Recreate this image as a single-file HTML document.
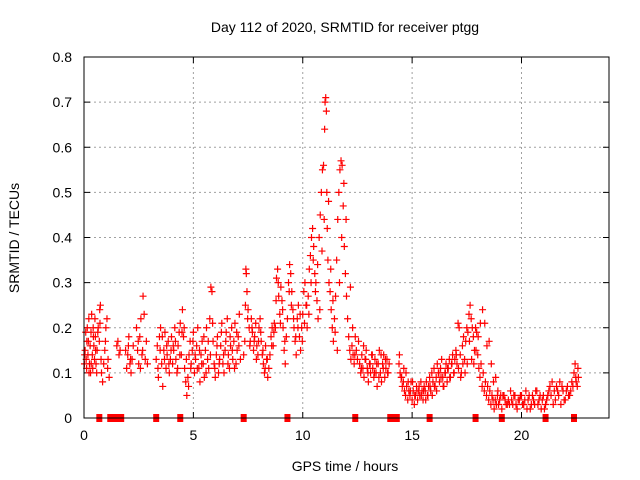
<!DOCTYPE html>
<html><head><meta charset="utf-8"><style>
body{margin:0;background:#fff;}
svg{display:block;font-family:"Liberation Sans",sans-serif;}
</style></head><body>
<svg id="chart" width="640" height="480">
<text x="345" y="32" font-size="14" text-anchor="middle">Day 112 of 2020, SRMTID for receiver ptgg</text>
<text x="345" y="471" font-size="14" text-anchor="middle">GPS time / hours</text>
<text x="19" y="238" font-size="14" text-anchor="middle" transform="rotate(-90 19 238)">SRMTID / TECUs</text>
<g id="grid"></g><g id="ticks"></g><g id="pts"></g>
<rect x="84" y="57" width="525" height="361" fill="none" stroke="#000" stroke-width="1"/>
</svg>
<script>
const xTicks=[0,5,10,15,20];
const yTicks=[0,0.1,0.2,0.3,0.4,0.5,0.6,0.7,0.8];
const times=[0.02,0.05,0.08,0.1,0.12,0.15,0.18,0.2,0.22,0.25,0.28,0.3,0.32,0.35,0.38,0.4,0.42,0.45,0.48,0.5,0.52,0.55,0.58,0.6,0.65,0.7,0.72,0.75,0.78,
0.8,0.85,0.9,0.95,1.0,1.05,1.1,1.15,1.5,1.55,1.6,1.65,1.9,1.95,2.0,2.05,2.1,2.15,2.2,2.25,
2.4,2.45,2.5,2.55,2.6,2.65,2.7,2.75,2.8,2.85,2.9,
3.3,3.35,3.4,3.45,3.5,3.55,3.6,3.65,3.7,3.75,3.8,3.85,3.9,3.95,4.0,
4.05,4.1,4.15,4.2,4.25,4.3,4.35,4.4,4.45,4.5,4.55,4.6,4.65,4.7,4.75,4.8,4.85,4.9,4.95,5.0,5.05,5.1,5.15,5.2,5.25,5.3,5.35,5.4,5.45,5.5,
5.55,5.6,5.65,5.7,5.75,5.8,5.85,5.9,5.95,6.0,6.05,6.1,6.15,6.2,6.25,6.3,6.35,6.4,6.45,6.5,
6.55,6.6,6.65,6.7,6.75,6.8,6.85,6.9,6.95,7.0,7.05,7.1,7.15,
7.3,7.35,7.4,7.42,7.45,7.5,7.55,7.6,7.65,7.7,7.75,7.8,7.85,7.9,7.95,
8.0,8.05,8.1,8.15,8.2,8.25,8.3,8.35,8.4,8.45,
8.5,8.55,8.6,8.65,8.7,8.75,8.8,8.85,8.9,8.95,9.0,9.05,9.1,9.15,9.2,9.25,
9.3,9.35,9.4,9.45,9.5,9.55,9.6,9.65,9.7,9.75,9.8,9.85,9.9,9.95,10.0,
10.05,10.1,10.15,10.2,10.25,10.3,10.35,10.4,10.45,10.5,10.55,10.6,10.65,10.7,
10.75,10.8,10.85,10.9,10.95,11.0,11.02,11.05,11.08,11.1,11.12,11.15,11.2,11.25,11.3,11.35,11.4,11.45,11.5,
11.55,11.6,11.65,11.7,11.75,11.8,11.85,11.9,11.95,12.0,12.05,12.1,
12.15,12.2,12.25,12.3,12.35,12.4,12.45,12.5,
12.55,12.6,12.65,12.7,12.75,12.8,12.85,12.9,12.95,13.0,13.05,13.1,13.15,13.2,13.25,13.3,13.35,13.4,13.45,13.5,13.55,13.6,13.65,13.7,13.75,13.8,13.85,13.9,13.95,
14.4,14.45,14.5,14.55,14.6,14.65,14.7,14.75,14.8,14.85,14.9,14.95,15.0,15.05,15.1,15.15,15.2,15.25,15.3,15.35,15.4,15.45,15.5,15.55,
15.6,15.65,15.7,15.75,15.8,15.85,15.9,15.95,16.0,16.05,16.1,16.15,16.2,16.25,16.3,16.35,16.4,16.45,16.5,16.55,16.6,16.65,16.7,16.75,16.8,16.85,16.9,16.95,
17.0,17.05,17.1,17.15,17.2,17.25,17.3,17.35,17.4,17.45,17.5,17.55,17.6,17.65,17.7,17.75,17.8,17.85,17.9,17.95,
18.0,18.05,18.1,18.15,18.2,18.25,18.3,18.35,18.4,18.45,18.5,18.55,18.6,18.65,18.7,18.75,18.8,18.85,18.9,18.95,
19.0,19.1,19.2,19.3,19.4,19.5,19.6,19.7,19.8,19.9,20.0,20.1,20.2,20.3,20.4,20.5,20.6,20.7,20.8,20.9,21.0,21.1,21.2,21.3,21.4,21.5,21.6,21.7,21.8,21.9,22.0,22.1,22.2,22.3,22.4,22.45,22.5,22.55,22.6];
const vals=[.12,.15,.19,.13,.11,.2,.14,.17,.22,.12,.16,.1,.19,.23,.14,.11,.2,.16,.13,.22,.18,.12,.1,.15,.2,.17,.24,.25,.13,
.1,.08,.12,.15,.2,.22,.13,.09,.16,.17,.14,.15,.15,.11,.14,.18,.12,.1,.13,.16,
.2,.15,.12,.18,.22,.14,.27,.23,.13,.17,.12,
.13,.16,.09,.18,.2,.12,.07,.15,.19,.11,.14,.17,.1,.13,.18,
.12,.15,.2,.13,.1,.16,.19,.21,.14,.24,.18,.11,.08,.05,.09,.14,.17,.12,.15,.19,.1,.13,.16,.2,.11,.08,.14,.17,.12,.09,
.15,.2,.13,.11,.22,.29,.28,.17,.12,.09,.14,.18,.1,.13,.16,.21,.12,.1,.15,.19,
.22,.14,.11,.16,.2,.13,.17,.21,.12,.15,.18,.23,.13,
.14,.17,.33,.32,.28,.24,.2,.17,.22,.19,.15,.18,.21,.16,.14,
.2,.22,.17,.14,.12,.1,.16,.13,.09,.11,
.14,.18,.2,.16,.21,.2,.31,.33,.27,.23,.29,.26,.2,.15,.12,.18,
.22,.3,.34,.32,.28,.24,.2,.17,.14,.22,.25,.18,.15,.2,.23,
.28,.3,.25,.2,.27,.33,.36,.4,.42,.38,.32,.3,.26,.22,
.4,.45,.5,.55,.56,.64,.7,.71,.68,.5,.42,.35,.3,.28,.24,.2,.17,.22,.27,
.35,.44,.5,.55,.57,.56,.47,.38,.32,.27,.22,.18,
.15,.13,.16,.14,.12,.18,.15,.13,
.17,.12,.1,.14,.11,.09,.13,.15,.11,.08,.12,.1,.14,.11,.09,.13,.1,.07,.12,.15,.1,.08,.12,.14,.09,.11,.13,.1,.12,
.12,.1,.09,.07,.08,.06,.05,.07,.04,.06,.05,.08,.04,.06,.03,.05,.07,.04,.06,.05,.08,.06,.04,.07,
.06,.08,.05,.07,.09,.06,.1,.08,.11,.07,.09,.12,.1,.08,.11,.13,.09,.07,.1,.12,.08,.11,.13,.09,.12,.14,.1,.13,
.15,.12,.21,.2,.14,.1,.16,.18,.13,.17,.2,.19,.23,.25,.22,.2,.18,.15,.2,.19,
.14,.11,.09,.12,.07,.1,.06,.08,.05,.07,.04,.06,.03,.05,.04,.02,.04,.03,.05,.03,
.04,.02,.05,.03,.04,.06,.03,.05,.02,.04,.05,.03,.06,.04,.02,.05,.03,.06,.04,.02,.05,.03,.05,.07,.08,.06,.07,.05,.03,.06,.04,.07,.05,.08,.1,.12,.08,.07,.09];
const times2=[0.03,0.13,0.23,0.33,0.43,0.53,0.63,0.73,0.98,1.08,2.03,2.13,2.48,2.58,2.68,3.38,3.48,3.58,3.68,3.78,3.88,3.98,4.08,4.18,4.28,4.38,4.48,4.58,4.68,4.78,4.88,4.98,5.08,5.18,5.28,5.38,5.48,5.58,5.68,5.78,5.88,5.98,6.08,6.18,6.28,6.38,6.48,6.58,6.68,6.78,6.88,6.98,7.08,7.38,7.48,7.58,7.68,7.78,7.88,7.98,8.08,8.18,8.28,8.38,8.58,8.68,8.78,8.88,8.98,9.08,9.18,9.38,9.48,9.58,9.68,9.78,9.88,9.98,10.08,10.18,10.28,10.38,10.48,10.58,10.68,10.78,10.88,10.98,11.18,11.28,11.38,11.48,11.58,11.68,11.78,11.88,11.98,12.18,12.28,12.38,12.68,12.78,12.88,12.98,13.08,13.18,13.28,13.38,13.48,13.58,13.68,13.78,13.88,14.42,14.52,14.62,14.72,14.82,14.92,15.02,15.12,15.22,15.32,15.42,15.52,15.62,15.72,15.82,15.92,16.02,16.12,16.22,16.32,16.42,16.52,16.62,16.72,16.82,16.92,17.02,17.12,17.22,17.32,17.42,17.52,17.62,17.72,17.82,17.92,18.02,18.12,18.22,18.32,18.42,18.52,18.62,18.72,18.82,18.92,19.05,19.15,19.25,19.35,19.45,19.55,19.65,19.75,19.85,19.95,20.05,20.15,20.25,20.35,20.45,20.55,20.65,20.75,20.85,20.95,21.05,21.15,21.25,21.35,21.45,21.55,21.65,21.75,21.85,21.95,22.05,22.15,22.25,22.35,22.48,22.58];
const vals2=[.14,.17,.1,.12,.18,.15,.19,.21,.17,.11,.16,.13,.17,.11,.15,.11,.15,.18,.13,.16,.12,.15,.16,.17,.11,.14,.19,.2,.13,.07,.11,.17,.14,.11,.15,.12,.18,.1,.17,.14,.21,.11,.16,.12,.19,.14,.17,.12,.18,.15,.11,.19,.16,.25,.22,.16,.2,.17,.13,.17,.19,.15,.11,.13,.16,.19,.26,.3,.21,.24,.17,.28,.25,.22,.18,.2,.23,.17,.21,.25,.23,.3,.35,.28,.34,.24,.37,.44,.48,.33,.26,.19,.15,.3,.4,.52,.44,.29,.2,.14,.11,.16,.13,.1,.12,.14,.1,.12,.09,.14,.11,.13,.1,.14,.09,.11,.1,.08,.06,.08,.05,.06,.07,.05,.06,.04,.05,.07,.05,.07,.06,.1,.09,.07,.1,.11,.09,.12,.1,.14,.11,.09,.12,.1,.12,.17,.13,.12,.15,.18,.21,.24,.21,.16,.17,.12,.08,.09,.06,.05,.05,.04,.03,.03,.04,.05,.03,.04,.05,.03,.04,.02,.05,.03,.04,.06,.03,.05,.04,.02,.04,.06,.05,.03,.04,.06,.08,.07,.04,.06,.05,.06,.07,.09,.11];
const zeroTimes=[0.7,1.2,1.3,1.4,1.6,1.7,3.3,4.4,7.3,9.3,12.4,14.0,14.1,14.2,14.3,15.8,17.9,19.1,21.1,22.4];
const X0=84,X1=609,Y0=418,Y1=57;
const xs=t=>X0+(t/24)*(X1-X0);
const ys=v=>Y0-(v/0.8)*(Y0-Y1);
const NS='http://www.w3.org/2000/svg';
const grid=document.getElementById('grid'),tk=document.getElementById('ticks'),pts=document.getElementById('pts');
function mk(tag,attrs,parent){const e=document.createElementNS(NS,tag);for(const k in attrs)e.setAttribute(k,attrs[k]);parent.appendChild(e);return e;}
xTicks.forEach(t=>{const x=xs(t);
 if(t>0){const g=mk('line',{x1:x,x2:x,y1:Y1,y2:Y0,stroke:'#a0a0a0','stroke-dasharray':'2,3'},grid);
 
 }
 mk('line',{x1:x,x2:x,y1:Y0,y2:Y0-6,stroke:'#000'},tk);mk('line',{x1:x,x2:x,y1:Y1,y2:Y1+6,stroke:'#000'},tk);
 const l=mk('text',{x:x,y:Y0+22,'font-size':14,'text-anchor':'middle'},tk);l.textContent=t;
 
 });
yTicks.forEach(v=>{const y=ys(v);
 if(v>0&&v<0.8){const g=mk('line',{x1:X0,x2:X1,y1:y,y2:y,stroke:'#a0a0a0','stroke-dasharray':'2,3'},grid);
 
 }
 mk('line',{x1:X0,x2:X0+6,y1:y,y2:y,stroke:'#000'},tk);mk('line',{x1:X1,x2:X1-6,y1:y,y2:y,stroke:'#000'},tk);
 const l=mk('text',{x:X0-12,y:y+5,'font-size':14,'text-anchor':'end'},tk);l.textContent=v===0?'0':v.toFixed(1);
 
 });
function plot(ts,vs){ts.forEach((t,i)=>{const x=xs(t),y=ys(vs[i]);
 const p=mk('path',{d:`M${x-3.5},${y}h7M${x},${y-3.5}v7`,stroke:'#f00','stroke-width':1.2,fill:'none'},pts);
 
 });}
plot(times,vals);
plot(times2,vals2);
zeroTimes.forEach(t=>{const x=xs(t);
 const r=mk('rect',{x:x-3,y:Y0-4,width:6,height:8,fill:'#f00'},pts);
 
 });
</script>
</body></html>
